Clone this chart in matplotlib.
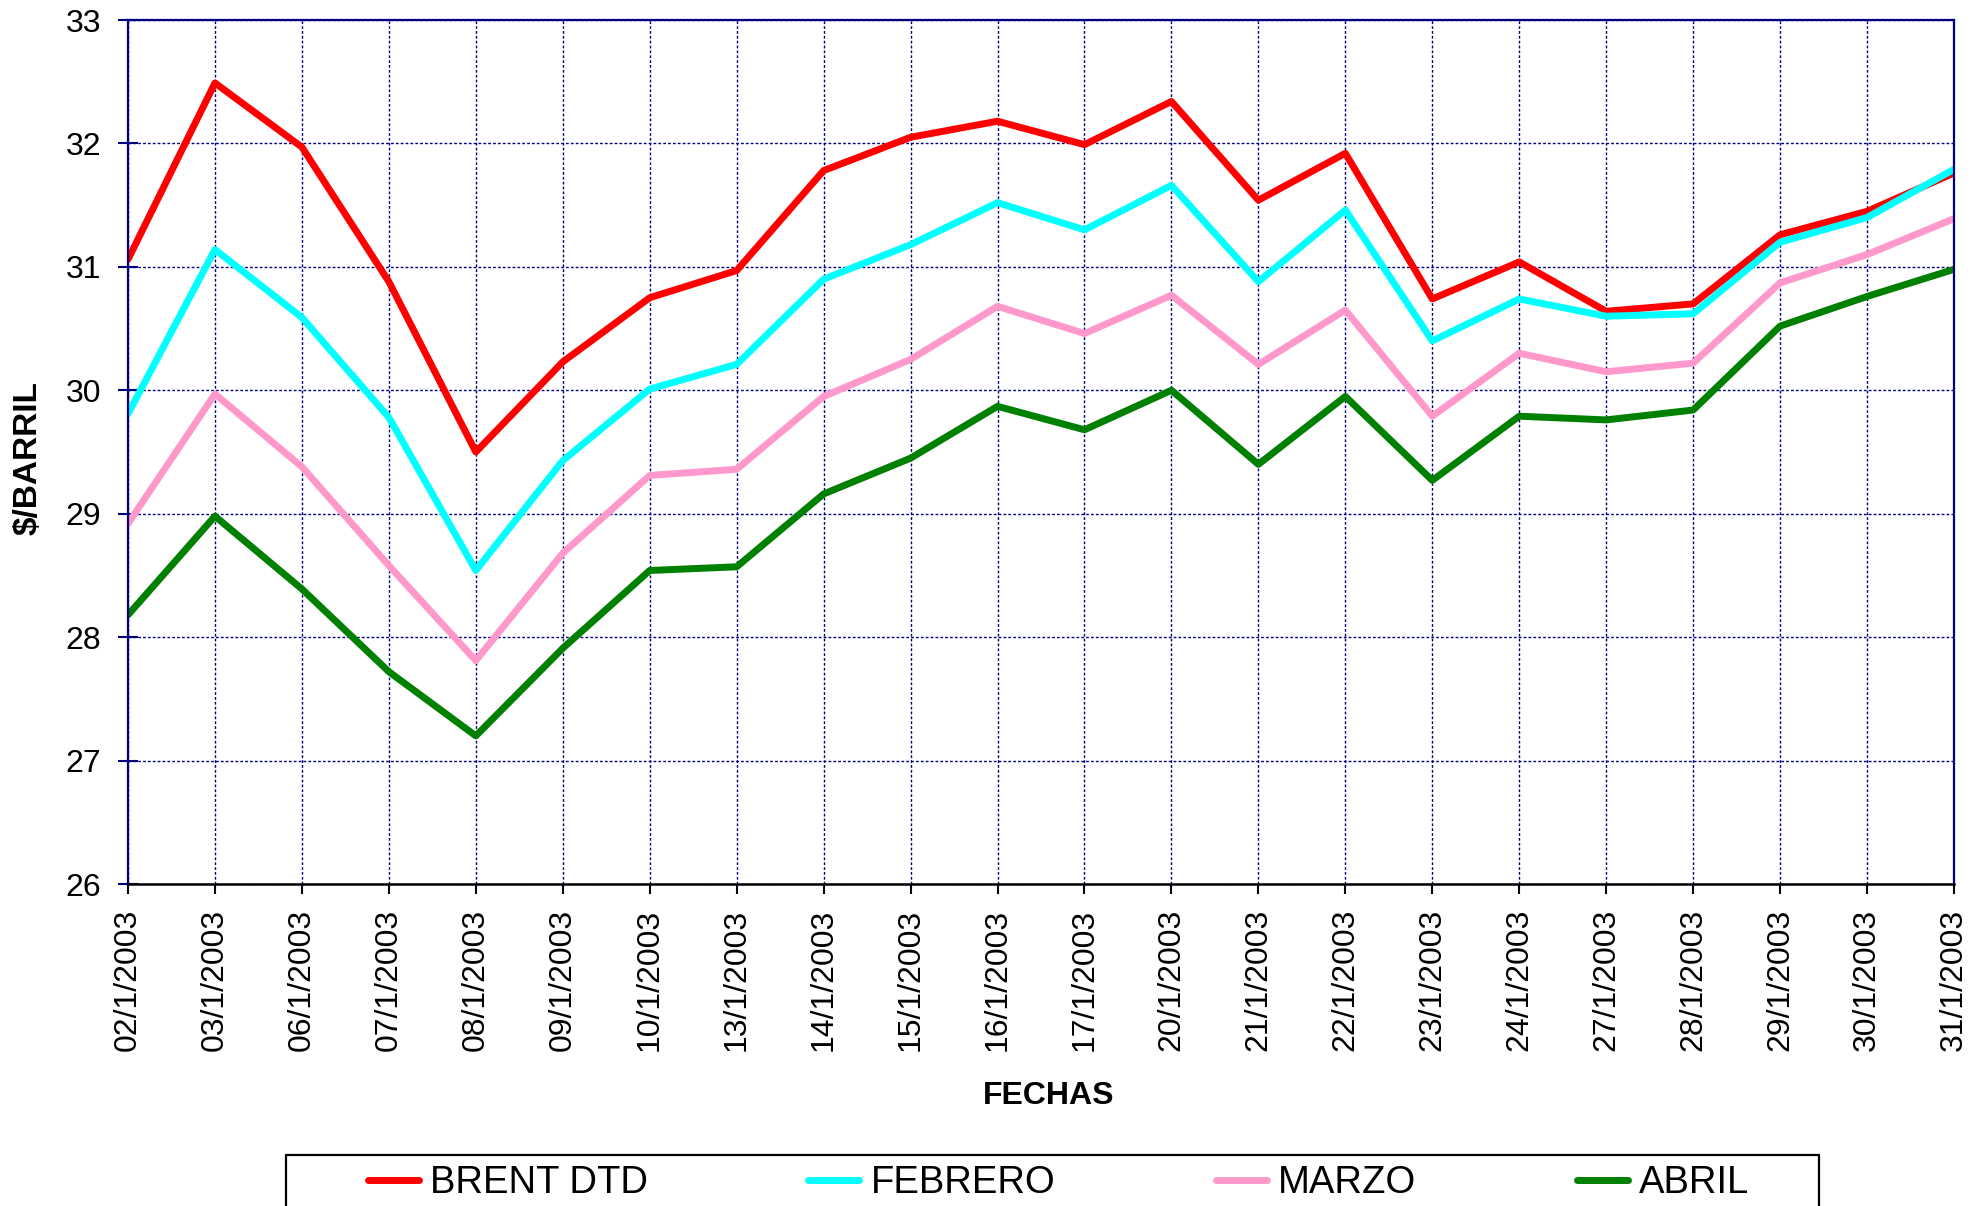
#!/usr/bin/env python3

import matplotlib
matplotlib.use("Agg")
import matplotlib.pyplot as plt
from matplotlib.patches import Rectangle


fechas = ["02/1/2003", "03/1/2003", "06/1/2003", "07/1/2003", "08/1/2003",
          "09/1/2003", "10/1/2003", "13/1/2003", "14/1/2003", "15/1/2003",
          "16/1/2003", "17/1/2003", "20/1/2003", "21/1/2003", "22/1/2003",
          "23/1/2003", "24/1/2003", "27/1/2003", "28/1/2003", "29/1/2003",
          "30/1/2003", "31/1/2003"]

brent = [31.06, 32.49, 31.97, 30.88, 29.50, 30.23, 30.75, 30.97, 31.78, 32.05,
         32.18, 31.99, 32.34, 31.54, 31.92, 30.74, 31.04, 30.64, 30.70, 31.26,
         31.45, 31.76]
febrero = [29.81, 31.14, 30.59, 29.78, 28.54, 29.43, 30.01, 30.21, 30.90, 31.18,
           31.52, 31.30, 31.66, 30.88, 31.46, 30.40, 30.74, 30.60, 30.62, 31.20,
           31.40, 31.79]
marzo = [28.92, 29.97, 29.38, 28.58, 27.81, 28.68, 29.31, 29.36, 29.95, 30.25,
         30.68, 30.46, 30.77, 30.21, 30.65, 29.79, 30.30, 30.15, 30.22, 30.87,
         31.10, 31.39]
abril = [28.18, 28.98, 28.39, 27.72, 27.20, 27.91, 28.54, 28.57, 29.16, 29.45,
         29.87, 29.68, 30.00, 29.40, 29.95, 29.27, 29.79, 29.76, 29.84, 30.52,
         30.76, 30.98]

series = [("BRENT DTD", brent, "#ff0000"),
          ("FEBRERO", febrero, "#00ffff"),
          ("MARZO", marzo, "#ff99cc"),
          ("ABRIL", abril, "#008000")]

NAVY = "#000080"

plt.rcParams['font.family'] = ['Liberation Sans', 'DejaVu Sans']

W, H = 1984, 1206
L, R, T, B = 128, 1954, 20, 884
fig = plt.figure(figsize=(W / 100, H / 100), dpi=100)
ax = fig.add_axes([L / W, 1 - B / H, (R - L) / W, (B - T) / H])

x = list(range(len(fechas)))
for name, vals, col in series:
    ax.plot(x, vals, color=col, lw=5, label=name,
            solid_capstyle="round", solid_joinstyle="round")

ax.set_xlim(0, len(fechas) - 1)
ax.set_ylim(26, 33)
ax.set_xticks(x)
ax.set_xticklabels(fechas, rotation=90, fontsize=23)
ax.set_yticks(range(26, 34))
ax.tick_params(axis="x", direction="out", length=7, width=1.5,
               color="black", pad=11)
ax.tick_params(axis="y", direction="inout", length=15, width=1.5,
               color=NAVY, pad=12, labelsize=23)

ax.grid(True, color=NAVY, lw=1, linestyle=(0, (2, 1.5)))
ax.set_axisbelow(True)

for side in ["top", "left", "right"]:
    ax.spines[side].set_color(NAVY)
    ax.spines[side].set_linewidth(1.6)
ax.spines["bottom"].set_color("black")
ax.spines["bottom"].set_linewidth(1.8)

ax.set_xlabel("FECHAS", fontsize=23, fontweight="bold", va="center")
ax.xaxis.set_label_coords(0.504, (B - 1096) / (B - T))
ax.set_ylabel("$/BARRIL", fontsize=24, fontweight="bold", va="center")
ax.yaxis.set_label_coords((28 - L) / (R - L), 0.5 - 6 / (B - T))

# legend: box runs off the bottom of the image
leg = fig.legend(loc="center left", bbox_to_anchor=(367.5 / W, 1 - 1183 / H),
                 ncol=4, frameon=False, fontsize=27.5, borderpad=0,
                 borderaxespad=0, handlelength=1.34, handletextpad=0.29,
                 columnspacing=4.2)
box = Rectangle((286 / W, -0.05), (1819 - 286) / W, 0.05 + 1 - 1155 / H,
                transform=fig.transFigure, fill=False, edgecolor="black",
                lw=1.6, clip_on=False)
fig.patches.append(box)

fig.savefig("out.png", dpi=100)
